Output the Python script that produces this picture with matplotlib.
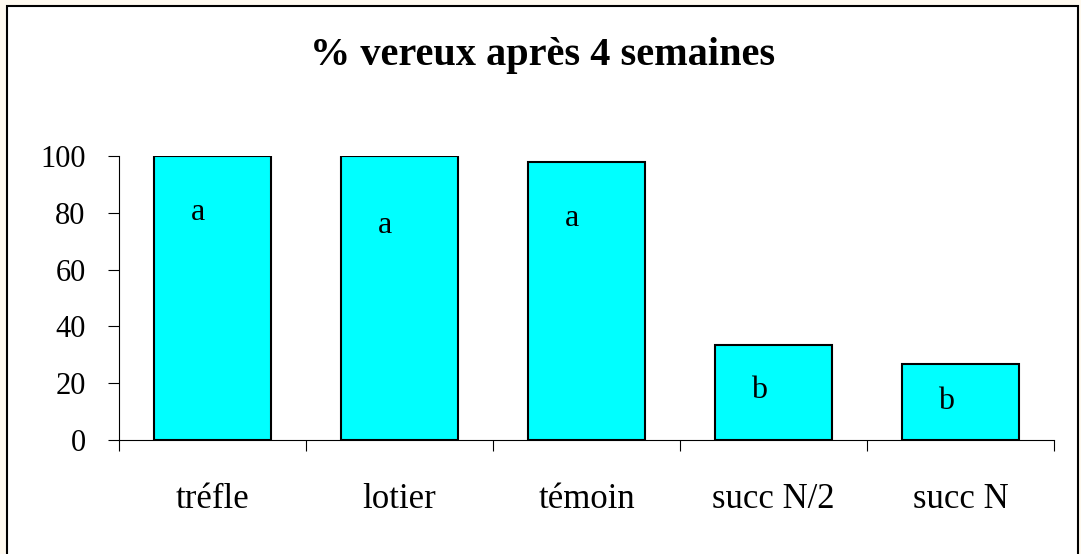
import matplotlib
matplotlib.use("Agg")
import matplotlib.pyplot as plt
from matplotlib.patches import Rectangle
from matplotlib.ticker import FixedLocator

categories = ["tréfle", "lotier", "témoin", "succ N/2", "succ N"]
values = [100, 100, 98, 33.5, 26.8]
letters = ["a", "a", "a", "b", "b"]
letter_heights = [80, 75.5, 78, 17.5, 13.5]
yticks = [0, 20, 40, 60, 80, 100]
title = "% vereux après 4 semaines"

serif = ["Liberation Serif", "DejaVu Serif"]

fig = plt.figure(figsize=(10.81, 5.54), dpi=100)
fig.patch.set_facecolor("#fffaf0")
frame = Rectangle((7.5 / 1081, -0.05), (1078 - 7.5) / 1081, 1.05 - 5.5 / 554,
                  transform=fig.transFigure, facecolor="white", edgecolor="black",
                  linewidth=1.5, zorder=-10)
fig.patches.append(frame)

ax = fig.add_axes([119 / 1081, 114 / 554, 935 / 1081, 284 / 554])
ax.set_facecolor("none")
x = list(range(len(categories)))
ax.bar(x, values, width=0.626, color="#00ffff", edgecolor="black", linewidth=1.5, zorder=2)
for xi, t, h in zip(x, letters, letter_heights):
    ax.text(xi - 0.08, h, t, ha="center", va="center", fontsize=23, family=serif, zorder=3)

ax.set_xlim(-0.5, len(categories) - 0.5)
ax.set_ylim(0, 100)
ax.set_yticks(yticks)
ax.set_yticklabels([str(v) for v in yticks], family=serif, fontsize=22)
ax.set_xticks(x)
ax.set_xticklabels(categories, family=serif, fontsize=25)
ax.xaxis.set_minor_locator(FixedLocator([i - 0.5 for i in range(len(categories) + 1)]))
ax.tick_params(axis="x", which="major", length=0, pad=31)
ax.tick_params(axis="x", which="minor", length=8, width=0.8, direction="out")
ax.tick_params(axis="y", which="major", length=8, width=0.8, direction="out", pad=16)
for s in ["top", "right"]:
    ax.spines[s].set_visible(False)
ax.spines["left"].set_linewidth(0.8)
ax.spines["bottom"].set_linewidth(0.8)

fig.text(543 / 1081, 1 - 55 / 554, title, ha="center", va="center",
         fontsize=29, fontweight="bold", family=serif)

fig.savefig("out.png", dpi=100, facecolor=fig.get_facecolor())
